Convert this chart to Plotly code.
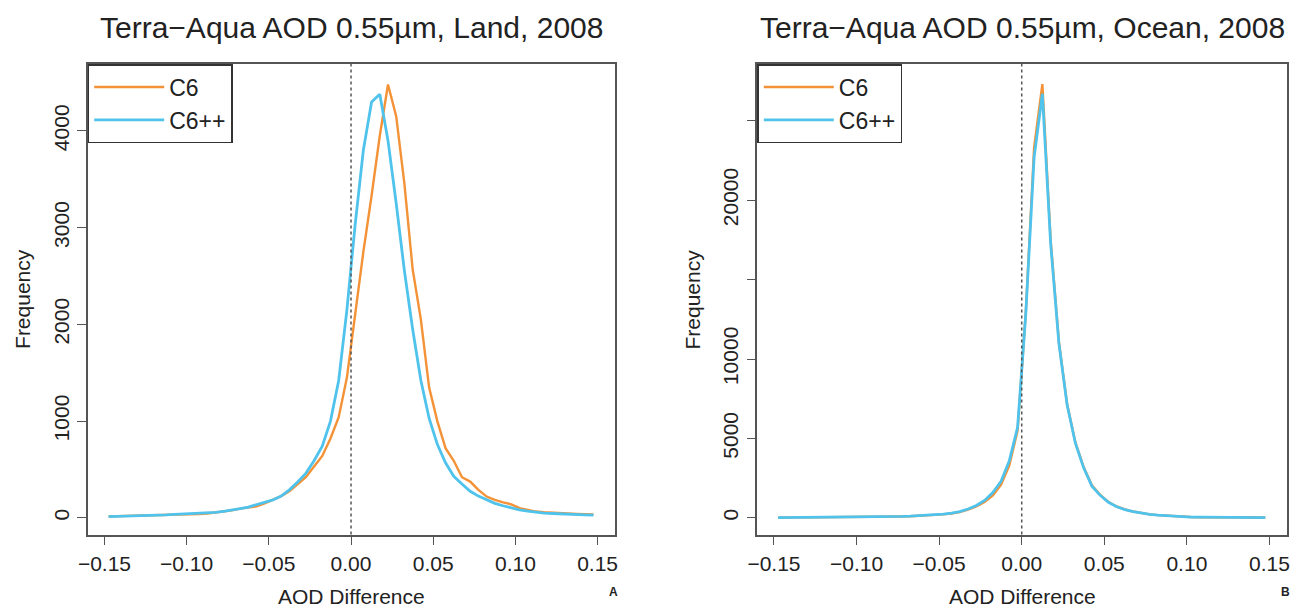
import plotly.graph_objects as go

# Bin midpoints of AOD difference (0.005 wide bins)
aod_diff = [-0.1475, -0.1425, -0.1375, -0.1325, -0.1275, -0.1225, -0.1175, -0.1125, -0.1075, -0.1025,
            -0.0975, -0.0925, -0.0875, -0.0825, -0.0775, -0.0725, -0.0675, -0.0625, -0.0575, -0.0525,
            -0.0475, -0.0425, -0.0375, -0.0325, -0.0275, -0.0225, -0.0175, -0.0125, -0.0075, -0.0025,
            0.0025, 0.0075, 0.0125, 0.0175, 0.0225, 0.0275, 0.0325, 0.0375, 0.0425, 0.0475,
            0.0525, 0.0575, 0.0625, 0.0675, 0.0725, 0.0775, 0.0825, 0.0875, 0.0925, 0.0975,
            0.1025, 0.1075, 0.1125, 0.1175, 0.1225, 0.1275, 0.1325, 0.1375, 0.1425, 0.1475]

land_c6 = [15, 17, 18, 20, 22, 24, 25, 28, 33, 35,
           37, 40, 45, 55, 65, 78, 95, 110, 118, 150,
           185, 225, 275, 345, 420, 530, 640, 820, 1040, 1450,
           2130, 2750, 3330, 3950, 4480, 4150, 3450, 2570, 2050, 1350,
           1000, 720, 590, 420, 375, 290, 220, 185, 160, 140,
           100, 80, 65, 58, 52, 48, 44, 40, 37, 35]

land_c6pp = [12, 14, 16, 18, 20, 23, 26, 30, 36, 40,
             40, 42, 48, 56, 68, 80, 95, 112, 135, 158,
             185, 225, 290, 370, 460, 590, 740, 1000, 1420, 2150,
             3030, 3800, 4300, 4380, 3900, 3250, 2550, 1950, 1420, 1030,
             760, 570, 430, 350, 275, 225, 185, 150, 125, 100,
             82, 70, 58, 50, 45, 40, 35, 32, 30, 28]

ocean_c6 = [20, 22, 24, 26, 28, 30, 33, 36, 40, 44,
            48, 53, 60, 68, 78, 90, 105, 125, 150, 180,
            220, 280, 370, 520, 720, 1000, 1420, 2100, 3300, 5500,
            13000, 23300, 27300, 17500, 11100, 7150, 4750, 3200, 2050, 1450,
            1000, 720, 530, 400, 300, 225, 175, 135, 95, 70,
            55, 45, 38, 33, 30, 28, 26, 25, 24, 23]

ocean_c6pp = [20, 22, 24, 26, 28, 30, 33, 36, 40, 44,
              48, 53, 60, 68, 80, 92, 108, 130, 155, 190,
              235, 300, 400, 560, 780, 1100, 1600, 2300, 3600, 5700,
              12900, 22700, 26700, 17300, 11000, 7100, 4700, 3150, 2000, 1420,
              980, 700, 520, 390, 295, 220, 170, 130, 92, 68,
              54, 44, 37, 32, 29, 27, 25, 24, 23, 22]

series_names = ["C6", "C6++"]
panel_titles = ["Terra\u2212Aqua AOD 0.55\u00b5m, Land, 2008",
                "Terra\u2212Aqua AOD 0.55\u00b5m, Ocean, 2008"]
x_tickvals = [-0.15, -0.10, -0.05, 0.00, 0.05, 0.10, 0.15]
x_ticktext = ["\u22120.15", "\u22120.10", "\u22120.05", "0.00", "0.05", "0.10", "0.15"]
land_yticks = [0, 1000, 2000, 3000, 4000]
land_yticktext = ["0", "1000", "2000", "3000", "4000"]
ocean_yticks = [0, 5000, 10000, 15000, 20000, 25000]
ocean_yticktext = ["0", "5000", "10000", "", "20000", ""]
x_label = "AOD Difference"
y_label = "Frequency"
panel_tags = ["A", "B"]

ORANGE = "#F39237"
BLUE = "#4FC3EC"
FRAME = "#555555"
TEXT = "#222222"
FONT = "Liberation Sans, Arial, sans-serif"
W, H = 1311, 614

# plot boxes in pixels (left, right, top, bottom)
boxes = [(87.7, 615.0, 64.0, 534.5), (757.3, 1287.3, 64.0, 534.5)]

fig = go.Figure()

panels = [
    (land_c6, land_c6pp, "x", "y", "legend", [-0.1602, 0.1606], [-172, 4692], land_yticks, land_yticktext),
    (ocean_c6, ocean_c6pp, "x2", "y2", "legend2", [-0.1601, 0.1608], [-1045, 28570], ocean_yticks, ocean_yticktext),
]

for k, (c6, c6pp, xa, ya, lg, xr, yr, ytv, ytt) in enumerate(panels):
    fig.add_trace(go.Scatter(x=aod_diff, y=c6, mode="lines", name=series_names[0],
                             line=dict(color=ORANGE, width=2.4), xaxis=xa, yaxis=ya, legend=lg))
    fig.add_trace(go.Scatter(x=aod_diff, y=c6pp, mode="lines", name=series_names[1],
                             line=dict(color=BLUE, width=2.8), xaxis=xa, yaxis=ya, legend=lg))

axis_common = dict(showgrid=False, zeroline=False, showline=True, mirror=True,
                   linecolor=FRAME, linewidth=1.6, ticks="outside", ticklen=9,
                   tickwidth=1.4, tickcolor=FRAME, automargin=False,
                   tickfont=dict(family=FONT, size=21, color=TEXT))

for k, (l, r, t, b) in enumerate(boxes):
    xr = panels[k][5]
    yr = panels[k][6]
    sx = "" if k == 0 else "2"
    fig.update_layout({
        "xaxis" + sx: dict(axis_common, domain=[l / W, r / W], range=xr,
                           tickmode="array", tickvals=x_tickvals, ticktext=x_ticktext,
                           anchor="y" + sx),
        "yaxis" + sx: dict(axis_common, domain=[1 - b / H, 1 - t / H], range=yr,
                           tickmode="array", tickvals=panels[k][7], ticktext=panels[k][8],
                           tickangle=-90, anchor="x" + sx),
    })
    # dotted zero line
    fig.add_shape(type="line", xref="x" + sx, yref="y" + sx + " domain",
                  x0=0, x1=0, y0=0, y1=1,
                  line=dict(color=FRAME, width=1.5, dash="dot"))
    cx = (l + r) / 2
    fig.add_annotation(x=cx / W, y=1 - 27 / H, xref="paper", yref="paper",
                       text=panel_titles[k], showarrow=False, xanchor="center", yanchor="middle",
                       font=dict(family=FONT, size=30, color=TEXT))
    fig.add_annotation(x=cx / W, y=1 - 596 / H, xref="paper", yref="paper",
                       text=x_label, showarrow=False, xanchor="center", yanchor="middle",
                       font=dict(family=FONT, size=21, color=TEXT))
    fig.add_annotation(x=(l - 65) / W, y=1 - ((t + b) / 2) / H, xref="paper", yref="paper",
                       text=y_label, showarrow=False, textangle=-90, xanchor="center", yanchor="middle",
                       font=dict(family=FONT, size=21, color=TEXT))
    fig.add_annotation(x=(r - 2) / W, y=1 - 592 / H, xref="paper", yref="paper",
                       text="<b>" + panel_tags[k] + "</b>", showarrow=False, xanchor="center", yanchor="middle",
                       font=dict(family=FONT, size=12, color=TEXT))
    fig.update_layout({
        ("legend" if k == 0 else "legend2"): dict(
            x=l / W, y=1 - t / H, xanchor="left", yanchor="top",
            bgcolor="white", bordercolor="#333333", borderwidth=1.5,
            font=dict(family=FONT, size=23, color=TEXT),
            itemwidth=70, tracegroupgap=0)
    })

fig.update_layout(width=W, height=H, margin=dict(l=0, r=0, t=0, b=0),
                  paper_bgcolor="white", plot_bgcolor="white", showlegend=True)

fig.write_html("out.html", config={"displayModeBar": False},
               post_script="document.body.style.margin='0px';document.body.style.padding='0px';")
